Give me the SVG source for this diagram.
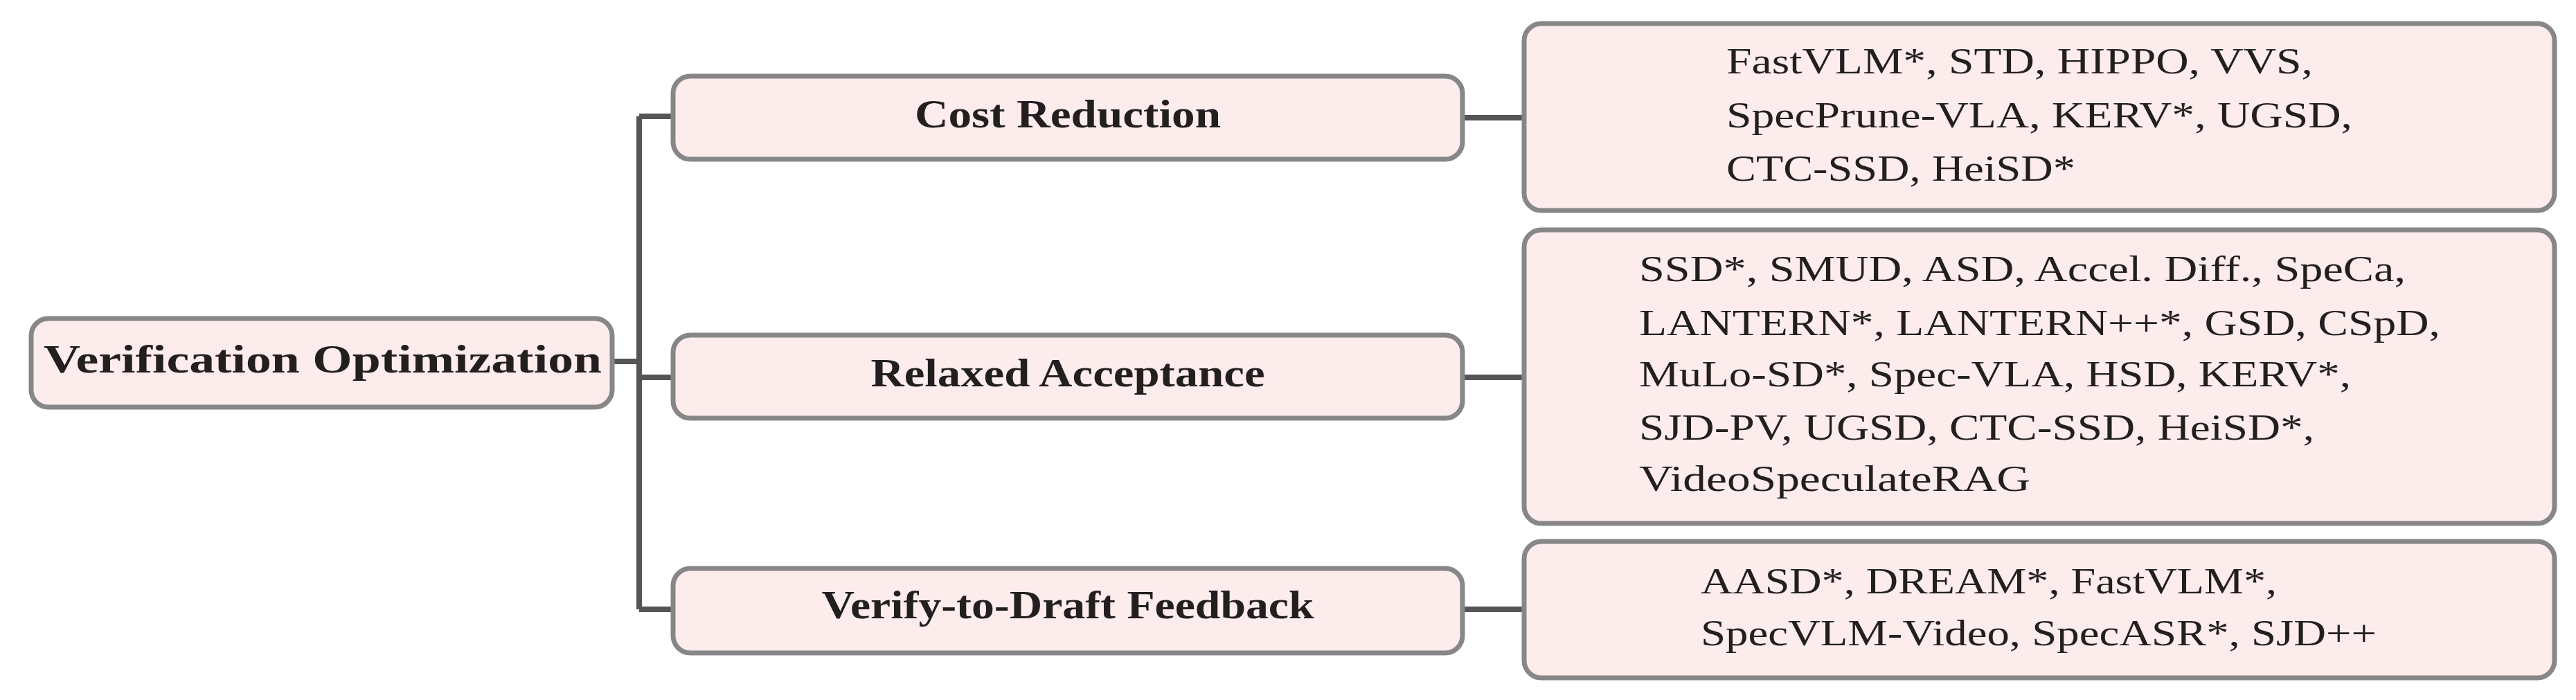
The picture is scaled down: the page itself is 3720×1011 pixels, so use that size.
<svg xmlns="http://www.w3.org/2000/svg" width="3720" height="1011" viewBox="0 0 3720 1011">
<style>
.box{fill:#fcecec;stroke:#878787;stroke-width:7}
.b{font-family:"Liberation Serif",serif;font-weight:bold;fill:#231f20;font-size:56px}
.t{font-family:"Liberation Serif",serif;fill:#231f20;font-size:52px}
.c{fill:none;stroke:#555;stroke-width:8}
</style>
<g id="connectors">
<path class="c" d="M884 522H923M923 168V880M923 168H972M923 545H972M923 880H972M2112 170H2201M2112 545H2201M2112 880H2201"/>
</g>
<g id="root"><rect class="box" x="45" y="460" width="839" height="128" rx="25"/><text class="b" x="63" y="538" textLength="806" lengthAdjust="spacingAndGlyphs" font-size="60">Verification Optimization</text></g>
<g id="cost"><rect class="box" x="972" y="110" width="1140" height="120" rx="25"/><text class="b" x="1542" y="184" text-anchor="middle" textLength="442" lengthAdjust="spacingAndGlyphs">Cost Reduction</text></g>
<g id="relaxed"><rect class="box" x="972" y="484" width="1140" height="120" rx="25"/><text class="b" x="1542" y="558" text-anchor="middle" textLength="569" lengthAdjust="spacingAndGlyphs">Relaxed Acceptance</text></g>
<g id="verify"><rect class="box" x="972" y="821" width="1140" height="122" rx="25"/><text class="b" x="1542" y="893" text-anchor="middle" textLength="711" lengthAdjust="spacingAndGlyphs">Verify-to-Draft Feedback</text></g>
<g id="cost-list"><rect class="box" x="2201" y="34" width="1488" height="270" rx="25"/>
<text class="t" x="2493" y="106" textLength="847" lengthAdjust="spacingAndGlyphs">FastVLM*, STD, HIPPO, VVS,</text>
<text class="t" x="2493" y="184" textLength="904" lengthAdjust="spacingAndGlyphs">SpecPrune-VLA, KERV*, UGSD,</text>
<text class="t" x="2493" y="261" textLength="504" lengthAdjust="spacingAndGlyphs">CTC-SSD, HeiSD*</text></g>
<g id="relaxed-list"><rect class="box" x="2201" y="332" width="1488" height="424" rx="25"/>
<text class="t" x="2367" y="406" textLength="1107" lengthAdjust="spacingAndGlyphs">SSD*, SMUD, ASD, Accel. Diff., SpeCa,</text>
<text class="t" x="2367" y="484" textLength="1157" lengthAdjust="spacingAndGlyphs">LANTERN*, LANTERN++*, GSD, CSpD,</text>
<text class="t" x="2367" y="558" textLength="1028" lengthAdjust="spacingAndGlyphs">MuLo-SD*, Spec-VLA, HSD, KERV*,</text>
<text class="t" x="2367" y="635" textLength="975" lengthAdjust="spacingAndGlyphs">SJD-PV, UGSD, CTC-SSD, HeiSD*,</text>
<text class="t" x="2367" y="709" textLength="565" lengthAdjust="spacingAndGlyphs">VideoSpeculateRAG</text></g>
<g id="verify-list"><rect class="box" x="2201" y="782" width="1488" height="197" rx="25"/>
<text class="t" x="2456" y="857" textLength="832" lengthAdjust="spacingAndGlyphs">AASD*, DREAM*, FastVLM*,</text>
<text class="t" x="2456" y="932" textLength="976" lengthAdjust="spacingAndGlyphs">SpecVLM-Video, SpecASR*, SJD++</text></g>
</svg>
